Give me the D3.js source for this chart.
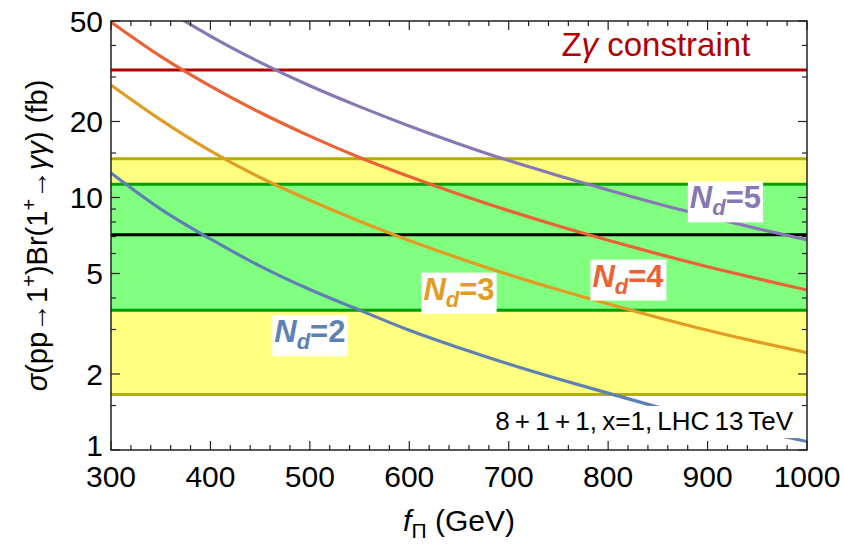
<!DOCTYPE html>
<html>
<head>
<meta charset="utf-8">
<script src="https://cdn.jsdelivr.net/npm/d3@7"></script>
<style>
  body{margin:0;background:#fff;}
  svg{display:block;font-family:"Liberation Sans",Arial,sans-serif;}
</style>
</head>
<body>
<svg id="chart" width="844" height="544"></svg>
<script>
// ===== DATA =====
const fPi = [300,350,400,450,500,550,600,650,700,750,800,850,900,950,1000];
const sigmaNd2 = [12.5,9.0,6.85,5.35,4.32,3.58,2.98,2.54,2.19,1.91,1.68,1.48,1.32,1.19,1.08];
const sigmaNd3 = [27.9,20.3,15.3,12.0,9.75,8.05,6.75,5.75,4.95,4.31,3.79,3.35,2.98,2.68,2.43];
const sigmaNd4 = [49.5,36.2,27.6,21.7,17.5,14.4,12.1,10.3,8.87,7.71,6.77,5.98,5.32,4.77,4.30];
const sigmaNd5 = [78.2,57.2,43.6,34.3,27.7,22.9,19.2,16.3,14.0,12.2,10.7,9.44,8.41,7.53,6.79];
const seriesNames = ["2","3","4","5"];
const seriesColors = ["#5e81b5","#e19c24","#eb6235","#8778b3"];
const labelF = [500,650,820,918];
const labelSigma = [2.95,4.35,4.9,10.0];

const yellowBand = [1.66,14.25];
const greenBand = [3.58,11.28];
const centralValue = 7.12;
const zgammaLimit = 32;

const xTicks = [300,400,500,600,700,800,900,1000];
const yTicks = [1,2,5,10,20,50];
const yMinorTicks = [1.5,3,4,6,7,8,9,15,30,40];

window.addEventListener("DOMContentLoaded", () => {
  const svg=d3.select("#chart");
  const margin={top:21,right:37,bottom:94,left:111};
  const W=844, H=544;
  const x=d3.scaleLinear().domain([300,1000]).range([margin.left,W-margin.right]);
  const y=d3.scaleLog().domain([1,50]).range([H-margin.bottom,margin.top]);
  const x0=x.range()[0], x1=x.range()[1], y0=y.range()[0], y1=y.range()[1];

  svg.append("defs").append("clipPath").attr("id","plot-clip")
    .append("rect").attr("x",x0).attr("y",y1).attr("width",x1-x0).attr("height",y0-y1);

  const plot=svg.append("g").attr("clip-path","url(#plot-clip)");

  // ===== BANDS =====
  plot.append("rect").attr("x",x0).attr("width",x1-x0)
    .attr("y",y(yellowBand[1])).attr("height",y(yellowBand[0])-y(yellowBand[1])).attr("fill","#ffff80");
  plot.append("rect").attr("x",x0).attr("width",x1-x0)
    .attr("y",y(greenBand[1])).attr("height",y(greenBand[0])-y(greenBand[1])).attr("fill","#80ff80");

  const hline=(v,color)=>plot.append("line").attr("x1",x0).attr("x2",x1)
    .attr("y1",y(v)).attr("y2",y(v)).attr("stroke",color).attr("stroke-width",3);
  yellowBand.forEach(v=>hline(v,"#b5b000"));
  greenBand.forEach(v=>hline(v,"#00a000"));
  hline(centralValue,"#000");
  hline(zgammaLimit,"#b20000");

  // ===== CURVES =====
  const allSeries=[sigmaNd2,sigmaNd3,sigmaNd4,sigmaNd5];
  const line=d3.line().x(d=>x(d[0])).y(d=>y(d[1])).curve(d3.curveMonotoneX);
  allSeries.forEach((s,i)=>{
    plot.append("path").datum(fPi.map((f,j)=>[f,s[j]]))
      .attr("d",line).attr("fill","none").attr("stroke",seriesColors[i]).attr("stroke-width",3.2);
  });

  // ===== LABELS =====
  seriesNames.forEach((n,i)=>{
    const g=plot.append("g");
    const t=g.append("text").attr("x",x(labelF[i])).attr("y",y(labelSigma[i])).attr("dy","0.35em")
      .attr("text-anchor","middle").attr("font-size",31).attr("font-weight","bold").attr("fill",seriesColors[i]);
    t.append("tspan").attr("font-style","italic").text("N");
    t.append("tspan").attr("font-style","italic").attr("font-size",22).attr("dy",7).text("d");
    t.append("tspan").attr("dy",-7).text("="+n);
    const bb=t.node().getBBox();
    g.insert("rect","text").attr("x",bb.x-2).attr("y",bb.y+1).attr("width",bb.width+4).attr("height",bb.height+1)
      .attr("fill","#fff");
  });

  const zt=plot.append("text").attr("x",x(943)).attr("y",y(36.5)).attr("text-anchor","end")
    .attr("font-size",33).attr("fill","#b20000");
  zt.append("tspan").text("Z");
  zt.append("tspan").attr("font-style","italic").text("γ");
  zt.append("tspan").text(" constraint");

  const info=plot.append("g");
  const it=info.append("text").attr("x",x(986)).attr("y",y(1.2)).attr("text-anchor","end")
    .attr("font-size",26).attr("word-spacing",-2).attr("fill","#000").text("8 + 1 + 1, x=1, LHC 13 TeV");
  const ib=it.node().getBBox();
  info.insert("rect","text").attr("x",ib.x-4).attr("y",ib.y).attr("width",ib.width+8).attr("height",ib.height+2).attr("fill","#fff");

  // ===== FRAME + TICKS =====
  const frame=svg.append("g");
  frame.append("rect").attr("x",x0).attr("y",y1).attr("width",x1-x0).attr("height",y0-y1)
    .attr("fill","none").attr("stroke","#222").attr("stroke-width",1.5);

  const xMinor=d3.range(300,1001,20).filter(v=>v%100!==0);
  const tick=(x1_,y1_,x2_,y2_)=>frame.append("line").attr("x1",x1_).attr("y1",y1_).attr("x2",x2_).attr("y2",y2_)
    .attr("stroke","#222").attr("stroke-width",1.2);
  xTicks.forEach(v=>{ tick(x(v),y0,x(v),y0-9); tick(x(v),y1,x(v),y1+9); });
  xMinor.forEach(v=>{ tick(x(v),y0,x(v),y0-5); tick(x(v),y1,x(v),y1+5); });
  yTicks.forEach(v=>{ tick(x0,y(v),x0+9,y(v)); tick(x1,y(v),x1-9,y(v)); });
  yMinorTicks.forEach(v=>{ tick(x0,y(v),x0+5,y(v)); tick(x1,y(v),x1-5,y(v)); });

  frame.selectAll(".xl").data(xTicks).enter().append("text")
    .attr("x",d=>x(d)).attr("y",y0+37).attr("text-anchor","middle").attr("font-size",30).text(d=>d);
  frame.selectAll(".yl").data(yTicks).enter().append("text")
    .attr("x",x0-8).attr("y",d=>y(d)-(d===1?5:0)).attr("dy","0.36em").attr("text-anchor","end").attr("font-size",30).text(d=>d);

  // ===== AXIS TITLES =====
  const xt=svg.append("text").attr("x",(x0+x1)/2).attr("y",531).attr("text-anchor","middle").attr("font-size",30);
  xt.append("tspan").attr("font-style","italic").text("f");
  xt.append("tspan").attr("font-size",21).attr("dy",7).text("Π");
  xt.append("tspan").attr("dy",-7).text(" (GeV)");

  const yt=svg.append("text").attr("transform",`translate(47,${(y0+y1)/2}) rotate(-90)`)
    .attr("text-anchor","middle").attr("font-size",29);
  yt.append("tspan").attr("font-style","italic").text("σ");
  yt.append("tspan").text("(pp→1");
  yt.append("tspan").attr("font-size",20).attr("dy",-11).text("+");
  yt.append("tspan").attr("dy",11).text(")Br(1");
  yt.append("tspan").attr("font-size",20).attr("dy",-11).text("+");
  yt.append("tspan").attr("dy",11).text("→");
  yt.append("tspan").attr("font-style","italic").text("γγ");
  yt.append("tspan").text(") (fb)");
});
</script>
</body>
</html>
